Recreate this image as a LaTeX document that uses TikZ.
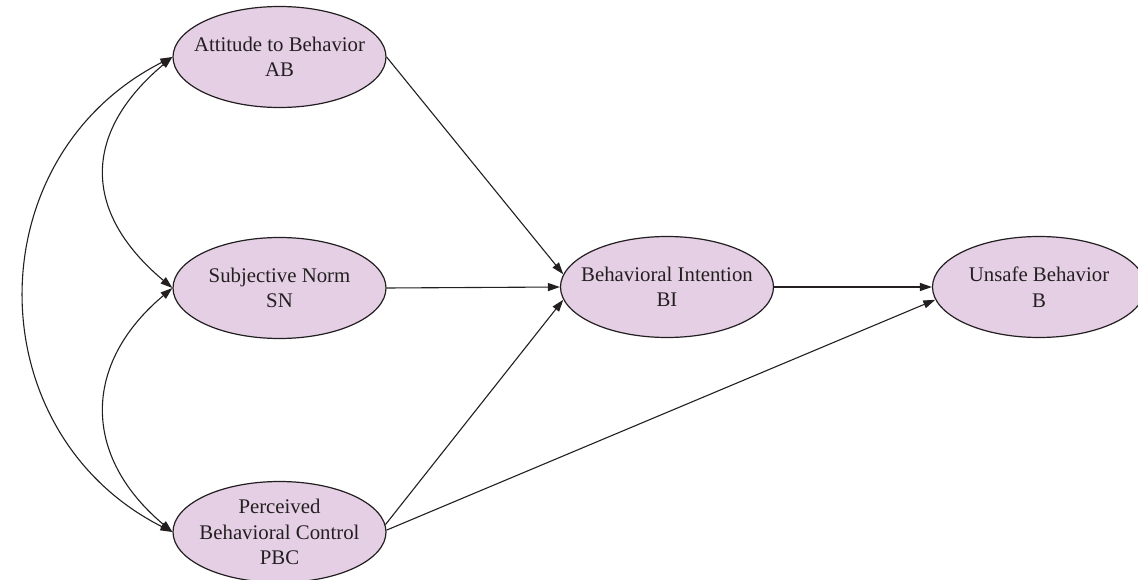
\documentclass[tikz,border=0pt]{standalone}
\usepackage{fontspec}
\setmainfont{Liberation Serif}
\usetikzlibrary{shapes.geometric,arrows.meta}
\definecolor{fillc}{RGB}{229,207,229}
\definecolor{ink}{RGB}{35,31,32}
\begin{document}
\begin{tikzpicture}[x=1pt,y=1pt,
 latent/.style={ellipse, draw=ink, line width=1.2pt, fill=fillc, minimum width=213pt, minimum height=101pt, inner sep=-40pt, align=center, font=\fontsize{20.8}{25.5}\selectfont, text=ink},
 pth/.style={draw=ink, line width=1.1pt, -{Triangle[length=12pt,width=8pt]}},
 cov/.style={draw=ink, line width=1.1pt, {Triangle[length=12pt,width=8pt]}-{Triangle[length=12pt,width=8pt]}}]
\useasboundingbox (0,0) rectangle (1138,-580);
\node[latent] (AB) at (279.5,-57) {Attitude to Behavior\\AB};
\node[latent] (SN) at (279.5,-288) {Subjective Norm\\SN};
\node[latent] (PBC) at (279.5,-532) {Perceived\\Behavioral Control\\PBC};
\node[latent] (BI) at (667,-287) {Behavioral Intention\\BI};
\node[latent] (B) at (1039,-287) {Unsafe Behavior\\B};
\draw[pth] (AB.east) -- (BI.173);
\draw[pth] (SN.east) -- (BI.west);
\draw[pth] (PBC.4) -- (BI.187);
\draw[pth] (BI.east) -- (B.west);
\draw[pth] (PBC.1) -- (B.187);
\draw[cov] (AB.west) .. controls +(-90.4,-75.9) and +(-90.4,75.9) .. (SN.west);
\draw[cov] (SN.west) .. controls +(-90.4,-75.9) and +(-90.4,75.9) .. (PBC.west);
\draw[cov] (AB.west) .. controls +(-197,-100) and +(-197,100) .. (PBC.west);
\end{tikzpicture}
\end{document}
